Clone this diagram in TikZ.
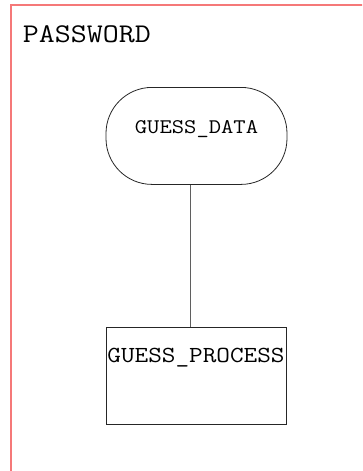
\documentclass[tikz,border=0pt]{standalone}
\usepackage{fontspec}
\setmonofont{Latin Modern Mono}[FakeStretch=1.15]
\usepackage{tikz}
\usetikzlibrary{
  positioning,
  arrows.meta
}
\definecolor{framered}{RGB}{245,120,120}
\definecolor{edgegray}{RGB}{95,95,95}

\begin{document}
\begin{tikzpicture}[x=1pt, y=-1pt,
    datanode/.style={draw=black!85, line width=0.8pt, rounded corners=46pt, inner sep=0pt,
      minimum width=181pt, text height=46.3pt, text depth=50.7pt,
      font=\ttfamily\fontsize{20.8}{20.8}\selectfont},
    procnode/.style={draw=black!85, line width=0.8pt, inner sep=0pt,
      minimum width=180pt, text height=34.7pt, text depth=62.3pt,
      font=\ttfamily\fontsize{23}{23}\selectfont},
    link/.style={draw=edgegray, line width=0.8pt}
  ]

    %\draw[very thin,color=gray] (0,0) grid[step=50] (362,471);
    \useasboundingbox (0,0) rectangle (362,471);
    \clip (0,0) rectangle (362,471);

    % outer frame, cut off on the right and at the bottom
    \draw[framered, line width=2pt] (10.5,4.5) rectangle (420,520);
    \node (pwd) [anchor=base west, inner sep=0pt, font=\ttfamily\fontsize{27}{27}\selectfont]
        at (22.7,42.7) {PASSWORD};

    \node (data) [datanode, anchor=north] at (196.5,87) {GUESS\_DATA};
    \node (proc) [procnode, anchor=north] at (196,327) {GUESS\_PROCESS};

    \draw[link] ([xshift=-6.5pt]data.south) -- ([xshift=-6pt]proc.north);

\end{tikzpicture}
\end{document}
